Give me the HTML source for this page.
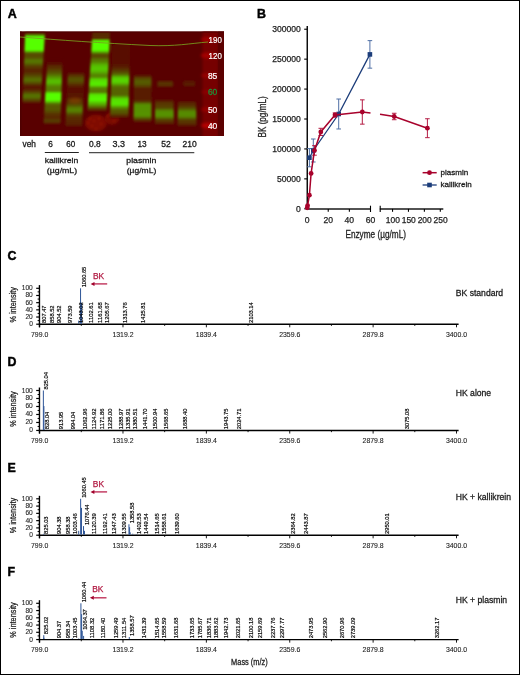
<!DOCTYPE html>
<html><head><meta charset="utf-8"><title>Figure</title>
<style>
html,body{margin:0;padding:0;background:#fff;}
body{width:520px;height:675px;overflow:hidden;font-family:"Liberation Sans",sans-serif;}
svg{display:block;will-change:transform;}
</style></head><body>
<svg width="520" height="675" viewBox="0 0 520 675" font-family="'Liberation Sans', sans-serif"><defs><linearGradient id="lg1" gradientUnits="userSpaceOnUse" x1="0" y1="31.5" x2="0" y2="103.5"><stop offset="0.0000" stop-color="rgb(88,38,0)"/><stop offset="0.0486" stop-color="rgb(88,51,0)"/><stop offset="0.0708" stop-color="rgb(86,255,0)"/><stop offset="0.2611" stop-color="rgb(86,255,0)"/><stop offset="0.2778" stop-color="rgb(86,153,0)"/><stop offset="0.2986" stop-color="rgb(87,82,0)"/><stop offset="0.3542" stop-color="rgb(87,71,0)"/><stop offset="0.3889" stop-color="rgb(86,107,0)"/><stop offset="0.4167" stop-color="rgb(86,122,0)"/><stop offset="0.4514" stop-color="rgb(87,92,0)"/><stop offset="0.4931" stop-color="rgb(88,51,0)"/><stop offset="0.5347" stop-color="rgb(88,38,0)"/><stop offset="0.5764" stop-color="rgb(88,43,0)"/><stop offset="0.6181" stop-color="rgb(87,76,0)"/><stop offset="0.6736" stop-color="rgb(86,117,0)"/><stop offset="0.7153" stop-color="rgb(87,76,0)"/><stop offset="0.7569" stop-color="rgb(88,26,0)"/><stop offset="0.7986" stop-color="rgb(89,20,0)"/><stop offset="0.8403" stop-color="rgb(88,64,0)"/><stop offset="0.8889" stop-color="rgb(86,120,0)"/><stop offset="0.9236" stop-color="rgb(87,102,0)"/><stop offset="0.9653" stop-color="rgb(88,51,0)"/><stop offset="1.0000" stop-color="rgb(89,0,0)"/></linearGradient><linearGradient id="lg2" gradientUnits="userSpaceOnUse" x1="0" y1="58" x2="0" y2="124.5"><stop offset="0.0000" stop-color="rgb(89,0,0)"/><stop offset="0.0451" stop-color="rgb(89,0,0)"/><stop offset="0.0752" stop-color="rgb(89,13,0)"/><stop offset="0.1203" stop-color="rgb(88,38,0)"/><stop offset="0.1805" stop-color="rgb(88,64,0)"/><stop offset="0.2256" stop-color="rgb(87,89,0)"/><stop offset="0.2707" stop-color="rgb(86,128,0)"/><stop offset="0.3158" stop-color="rgb(86,173,0)"/><stop offset="0.3534" stop-color="rgb(86,194,0)"/><stop offset="0.3835" stop-color="rgb(86,178,0)"/><stop offset="0.4135" stop-color="rgb(86,140,0)"/><stop offset="0.4586" stop-color="rgb(86,120,0)"/><stop offset="0.5038" stop-color="rgb(86,133,0)"/><stop offset="0.5338" stop-color="rgb(86,255,0)"/><stop offset="0.6316" stop-color="rgb(86,255,0)"/><stop offset="0.6541" stop-color="rgb(86,204,0)"/><stop offset="0.6767" stop-color="rgb(86,128,0)"/><stop offset="0.7068" stop-color="rgb(87,92,0)"/><stop offset="0.7820" stop-color="rgb(87,87,0)"/><stop offset="0.8195" stop-color="rgb(88,64,0)"/><stop offset="0.8722" stop-color="rgb(88,38,0)"/><stop offset="0.9173" stop-color="rgb(88,46,0)"/><stop offset="0.9474" stop-color="rgb(87,69,0)"/><stop offset="0.9774" stop-color="rgb(88,31,0)"/><stop offset="1.0000" stop-color="rgb(89,0,0)"/></linearGradient><linearGradient id="lg3" gradientUnits="userSpaceOnUse" x1="0" y1="71" x2="0" y2="127"><stop offset="0.0000" stop-color="rgb(89,0,0)"/><stop offset="0.0357" stop-color="rgb(89,13,0)"/><stop offset="0.0804" stop-color="rgb(88,46,0)"/><stop offset="0.1250" stop-color="rgb(87,76,0)"/><stop offset="0.1607" stop-color="rgb(87,87,0)"/><stop offset="0.2143" stop-color="rgb(88,64,0)"/><stop offset="0.2679" stop-color="rgb(88,26,0)"/><stop offset="0.3214" stop-color="rgb(89,15,0)"/><stop offset="0.4464" stop-color="rgb(89,20,0)"/><stop offset="0.5179" stop-color="rgb(88,46,0)"/><stop offset="0.5893" stop-color="rgb(88,64,0)"/><stop offset="0.6429" stop-color="rgb(86,107,0)"/><stop offset="0.6875" stop-color="rgb(86,133,0)"/><stop offset="0.7232" stop-color="rgb(86,122,0)"/><stop offset="0.7589" stop-color="rgb(87,84,0)"/><stop offset="0.8036" stop-color="rgb(88,51,0)"/><stop offset="0.8929" stop-color="rgb(88,38,0)"/><stop offset="0.9643" stop-color="rgb(88,33,0)"/><stop offset="1.0000" stop-color="rgb(89,0,0)"/></linearGradient><linearGradient id="lg4" gradientUnits="userSpaceOnUse" x1="0" y1="31.5" x2="0" y2="111.5"><stop offset="0.0000" stop-color="rgb(88,38,0)"/><stop offset="0.1000" stop-color="rgb(88,51,0)"/><stop offset="0.1162" stop-color="rgb(86,255,0)"/><stop offset="0.2338" stop-color="rgb(86,255,0)"/><stop offset="0.2562" stop-color="rgb(86,166,0)"/><stop offset="0.2812" stop-color="rgb(87,76,0)"/><stop offset="0.3187" stop-color="rgb(87,69,0)"/><stop offset="0.3500" stop-color="rgb(86,115,0)"/><stop offset="0.3812" stop-color="rgb(86,128,0)"/><stop offset="0.4188" stop-color="rgb(86,184,0)"/><stop offset="0.4688" stop-color="rgb(86,204,0)"/><stop offset="0.5062" stop-color="rgb(86,178,0)"/><stop offset="0.5375" stop-color="rgb(86,133,0)"/><stop offset="0.5687" stop-color="rgb(86,128,0)"/><stop offset="0.6000" stop-color="rgb(86,217,0)"/><stop offset="0.6687" stop-color="rgb(86,242,0)"/><stop offset="0.6937" stop-color="rgb(86,153,0)"/><stop offset="0.7188" stop-color="rgb(86,120,0)"/><stop offset="0.7625" stop-color="rgb(86,120,0)"/><stop offset="0.7875" stop-color="rgb(86,230,0)"/><stop offset="0.8562" stop-color="rgb(86,255,0)"/><stop offset="0.8812" stop-color="rgb(86,204,0)"/><stop offset="0.9062" stop-color="rgb(86,178,0)"/><stop offset="0.9313" stop-color="rgb(86,128,0)"/><stop offset="0.9563" stop-color="rgb(87,76,0)"/><stop offset="0.9812" stop-color="rgb(88,38,0)"/><stop offset="1.0000" stop-color="rgb(89,0,0)"/></linearGradient><linearGradient id="lg5" gradientUnits="userSpaceOnUse" x1="0" y1="44" x2="0" y2="118"><stop offset="0.0000" stop-color="rgb(89,0,0)"/><stop offset="0.0270" stop-color="rgb(89,15,0)"/><stop offset="0.1486" stop-color="rgb(89,15,0)"/><stop offset="0.2568" stop-color="rgb(89,13,0)"/><stop offset="0.2973" stop-color="rgb(88,26,0)"/><stop offset="0.3378" stop-color="rgb(88,46,0)"/><stop offset="0.3784" stop-color="rgb(87,71,0)"/><stop offset="0.4189" stop-color="rgb(86,115,0)"/><stop offset="0.4527" stop-color="rgb(86,199,0)"/><stop offset="0.4932" stop-color="rgb(86,217,0)"/><stop offset="0.5270" stop-color="rgb(86,199,0)"/><stop offset="0.5541" stop-color="rgb(86,140,0)"/><stop offset="0.5878" stop-color="rgb(87,102,0)"/><stop offset="0.6892" stop-color="rgb(87,97,0)"/><stop offset="0.7162" stop-color="rgb(86,153,0)"/><stop offset="0.7432" stop-color="rgb(86,224,0)"/><stop offset="0.8176" stop-color="rgb(86,230,0)"/><stop offset="0.8514" stop-color="rgb(86,153,0)"/><stop offset="0.8919" stop-color="rgb(87,92,0)"/><stop offset="0.9324" stop-color="rgb(87,84,0)"/><stop offset="0.9595" stop-color="rgb(88,51,0)"/><stop offset="0.9865" stop-color="rgb(89,20,0)"/><stop offset="1.0000" stop-color="rgb(89,0,0)"/></linearGradient><linearGradient id="lg6" gradientUnits="userSpaceOnUse" x1="0" y1="74" x2="0" y2="122.5"><stop offset="0.0000" stop-color="rgb(89,0,0)"/><stop offset="0.0412" stop-color="rgb(88,26,0)"/><stop offset="0.0825" stop-color="rgb(88,64,0)"/><stop offset="0.1237" stop-color="rgb(87,89,0)"/><stop offset="0.1959" stop-color="rgb(87,92,0)"/><stop offset="0.2474" stop-color="rgb(88,64,0)"/><stop offset="0.2990" stop-color="rgb(88,31,0)"/><stop offset="0.4536" stop-color="rgb(88,26,0)"/><stop offset="0.5567" stop-color="rgb(88,36,0)"/><stop offset="0.5979" stop-color="rgb(87,89,0)"/><stop offset="0.6289" stop-color="rgb(86,143,0)"/><stop offset="0.8557" stop-color="rgb(86,148,0)"/><stop offset="0.8969" stop-color="rgb(86,107,0)"/><stop offset="0.9381" stop-color="rgb(88,56,0)"/><stop offset="0.9794" stop-color="rgb(89,20,0)"/><stop offset="1.0000" stop-color="rgb(89,0,0)"/></linearGradient><linearGradient id="lg7" gradientUnits="userSpaceOnUse" x1="0" y1="99" x2="0" y2="126"><stop offset="0.0000" stop-color="rgb(89,0,0)"/><stop offset="0.0741" stop-color="rgb(88,31,0)"/><stop offset="0.1852" stop-color="rgb(88,59,0)"/><stop offset="0.2963" stop-color="rgb(88,61,0)"/><stop offset="0.3704" stop-color="rgb(87,89,0)"/><stop offset="0.4444" stop-color="rgb(86,143,0)"/><stop offset="0.6296" stop-color="rgb(86,148,0)"/><stop offset="0.7037" stop-color="rgb(87,102,0)"/><stop offset="0.7778" stop-color="rgb(88,56,0)"/><stop offset="0.8519" stop-color="rgb(88,46,0)"/><stop offset="0.9259" stop-color="rgb(89,20,0)"/><stop offset="1.0000" stop-color="rgb(89,0,0)"/></linearGradient><linearGradient id="lg71" gradientUnits="userSpaceOnUse" x1="0" y1="80.5" x2="0" y2="87.5"><stop offset="0.0000" stop-color="rgb(89,0,0)"/><stop offset="0.2143" stop-color="rgb(88,51,0)"/><stop offset="0.7143" stop-color="rgb(88,51,0)"/><stop offset="1.0000" stop-color="rgb(89,0,0)"/></linearGradient><linearGradient id="lg8" gradientUnits="userSpaceOnUse" x1="0" y1="101" x2="0" y2="127"><stop offset="0.0000" stop-color="rgb(89,0,0)"/><stop offset="0.0769" stop-color="rgb(88,41,0)"/><stop offset="0.1923" stop-color="rgb(88,46,0)"/><stop offset="0.2692" stop-color="rgb(87,76,0)"/><stop offset="0.3462" stop-color="rgb(87,102,0)"/><stop offset="0.4038" stop-color="rgb(86,138,0)"/><stop offset="0.5769" stop-color="rgb(86,140,0)"/><stop offset="0.6538" stop-color="rgb(87,102,0)"/><stop offset="0.7308" stop-color="rgb(88,56,0)"/><stop offset="0.8462" stop-color="rgb(88,51,0)"/><stop offset="0.9231" stop-color="rgb(88,26,0)"/><stop offset="1.0000" stop-color="rgb(89,0,0)"/></linearGradient><linearGradient id="lg81" gradientUnits="userSpaceOnUse" x1="0" y1="80.5" x2="0" y2="87"><stop offset="0.0000" stop-color="rgb(89,0,0)"/><stop offset="0.2308" stop-color="rgb(88,31,0)"/><stop offset="0.6923" stop-color="rgb(88,31,0)"/><stop offset="1.0000" stop-color="rgb(89,0,0)"/></linearGradient><clipPath id="gelclip"><rect x="20" y="31.5" width="204" height="104.5"/></clipPath><filter id="blur1" x="-10%" y="-10%" width="120%" height="120%"><feGaussianBlur stdDeviation="0.95"/></filter><filter id="blur2" x="-50%" y="-50%" width="200%" height="200%"><feGaussianBlur stdDeviation="1.5"/></filter></defs><rect x="0" y="0" width="520" height="675" fill="#fff"/><rect x="20" y="31.5" width="204" height="104.5" fill="rgb(89,0,0)"/><g clip-path="url(#gelclip)"><rect x="202.5" y="28" width="15.7" height="112" fill="rgb(118,0,0)" filter="url(#blur1)"/></g><rect x="218.2" y="31.5" width="5.8" height="104.5" fill="rgb(92,0,0)"/><ellipse cx="208" cy="39.5" rx="7.0" ry="2.7" fill="rgb(160,0,0)" filter="url(#blur2)"/><ellipse cx="208" cy="55.5" rx="7.3" ry="3.0" fill="rgb(164,0,0)" filter="url(#blur2)"/><ellipse cx="208" cy="75.5" rx="6.7" ry="2.4000000000000004" fill="rgb(152,0,0)" filter="url(#blur2)"/><ellipse cx="208" cy="92" rx="6.5" ry="2.2" fill="rgb(140,0,0)" filter="url(#blur2)"/><ellipse cx="208" cy="109.5" rx="6.7" ry="2.4000000000000004" fill="rgb(152,0,0)" filter="url(#blur2)"/><ellipse cx="208" cy="125.5" rx="7.0" ry="2.7" fill="rgb(182,0,0)" filter="url(#blur2)"/><ellipse cx="96" cy="123" rx="11" ry="8.5" fill="rgb(135,15,0)" opacity="0.85" filter="url(#blur2)"/><ellipse cx="112" cy="118.5" rx="7.5" ry="6.5" fill="rgb(130,8,0)" opacity="0.85" filter="url(#blur2)"/><circle cx="90" cy="119" r="1.4" fill="rgb(165,40,0)" opacity="0.35" filter="url(#blur1)"/><circle cx="94" cy="121" r="1.4" fill="rgb(165,40,0)" opacity="0.35" filter="url(#blur1)"/><circle cx="99" cy="118.5" r="1.4" fill="rgb(165,40,0)" opacity="0.35" filter="url(#blur1)"/><circle cx="92" cy="126" r="1.4" fill="rgb(165,40,0)" opacity="0.35" filter="url(#blur1)"/><circle cx="101" cy="124" r="1.4" fill="rgb(165,40,0)" opacity="0.35" filter="url(#blur1)"/><circle cx="96" cy="129" r="1.4" fill="rgb(165,40,0)" opacity="0.35" filter="url(#blur1)"/><circle cx="108" cy="116" r="1.4" fill="rgb(165,40,0)" opacity="0.35" filter="url(#blur1)"/><circle cx="114" cy="121" r="1.4" fill="rgb(165,40,0)" opacity="0.35" filter="url(#blur1)"/><circle cx="88" cy="123" r="1.4" fill="rgb(165,40,0)" opacity="0.35" filter="url(#blur1)"/><g clip-path="url(#gelclip)"><g filter="url(#blur1)"><path d="M25.2,31.5 L45,31.5 L40.5,103.5 L22.5,103.5 Z" fill="url(#lg1)"/><path d="M47.5,58 L62.5,58 L60.5,124.5 L43.5,124.5 Z" fill="url(#lg2)"/><path d="M68,71 L84.5,71 L82,127 L65.5,127 Z" fill="url(#lg3)"/><path d="M92.5,31.5 L110,31.5 L106.5,111.5 L87.5,111.5 Z" fill="url(#lg4)"/><path d="M112.5,44 L130,44 L128.5,118 L110,118 Z" fill="url(#lg5)"/><path d="M134,74 L151.5,74 L151.5,122.5 L133.5,122.5 Z" fill="url(#lg6)"/><path d="M155,99 L173.5,99 L174,126 L155,126 Z" fill="url(#lg7)"/><path d="M157.5,80.5 L173,80.5 L173,87.5 L157.5,87.5 Z" fill="url(#lg71)"/><path d="M178,101 L196,101 L196.5,127 L177.5,127 Z" fill="url(#lg8)"/><path d="M183.5,80.5 L195,80.5 L195,87 L183.5,87 Z" fill="url(#lg81)"/></g></g><rect x="20" y="31.5" width="204" height="1.1" fill="rgb(72,0,0)" opacity="0.8"/><rect x="20" y="31.5" width="1.6" height="104.5" fill="rgb(75,0,0)" opacity="0.7"/><ellipse cx="75" cy="100.5" rx="6" ry="3" fill="rgb(150,70,0)" opacity="0.45" filter="url(#blur2)"/><path d="M20,37 C60,40 100,43 150,45.5 C175,46.5 190,43.5 208,42" fill="none" stroke="rgb(120,160,30)" stroke-width="0.95" opacity="0.9"/><text x="208.6" y="42.6" font-size="8.7" fill="#fff" stroke="#fff" stroke-width="0.2" textLength="13.2" lengthAdjust="spacingAndGlyphs">190</text><text x="208.6" y="59.0" font-size="8.7" fill="#fff" stroke="#fff" stroke-width="0.2" textLength="13.2" lengthAdjust="spacingAndGlyphs">120</text><text x="207.9" y="79.0" font-size="8.7" fill="#fff" stroke="#fff" stroke-width="0.2" textLength="9.4" lengthAdjust="spacingAndGlyphs">85</text><text x="207.9" y="95.0" font-size="8.7" fill="#1d8f38" stroke="#1d8f38" stroke-width="0.3" textLength="9.4" lengthAdjust="spacingAndGlyphs">60</text><text x="207.9" y="112.7" font-size="8.7" fill="#fff" stroke="#fff" stroke-width="0.2" textLength="9.4" lengthAdjust="spacingAndGlyphs">50</text><text x="207.9" y="128.7" font-size="8.7" fill="#fff" stroke="#fff" stroke-width="0.2" textLength="9.4" lengthAdjust="spacingAndGlyphs">40</text><text x="7.7" y="17.8" font-size="12.4" font-weight="bold" stroke="#000" stroke-width="0.45" textLength="9.0" lengthAdjust="spacingAndGlyphs">A</text><text x="29.2" y="147.1" text-anchor="middle" font-size="8.2" fill="#1a1a1a" stroke="#1a1a1a" stroke-width="0.28" textLength="13.4" lengthAdjust="spacingAndGlyphs">veh</text><text x="50.6" y="147.1" text-anchor="middle" font-size="8.2" fill="#1a1a1a" stroke="#1a1a1a" stroke-width="0.28" textLength="4.6" lengthAdjust="spacingAndGlyphs">6</text><text x="70.7" y="147.1" text-anchor="middle" font-size="8.2" fill="#1a1a1a" stroke="#1a1a1a" stroke-width="0.28" textLength="9.0" lengthAdjust="spacingAndGlyphs">60</text><text x="94.9" y="147.1" text-anchor="middle" font-size="8.2" fill="#1a1a1a" stroke="#1a1a1a" stroke-width="0.28" textLength="11.7" lengthAdjust="spacingAndGlyphs">0.8</text><text x="118.8" y="147.1" text-anchor="middle" font-size="8.2" fill="#1a1a1a" stroke="#1a1a1a" stroke-width="0.28" textLength="12.5" lengthAdjust="spacingAndGlyphs">3.3</text><text x="142.1" y="147.1" text-anchor="middle" font-size="8.2" fill="#1a1a1a" stroke="#1a1a1a" stroke-width="0.28" textLength="9.2" lengthAdjust="spacingAndGlyphs">13</text><text x="166" y="147.1" text-anchor="middle" font-size="8.2" fill="#1a1a1a" stroke="#1a1a1a" stroke-width="0.28" textLength="9.5" lengthAdjust="spacingAndGlyphs">52</text><text x="189.6" y="147.1" text-anchor="middle" font-size="8.2" fill="#1a1a1a" stroke="#1a1a1a" stroke-width="0.28" textLength="14.2" lengthAdjust="spacingAndGlyphs">210</text><rect x="44.8" y="152" width="34" height="1" fill="#222"/><rect x="89" y="152.2" width="105.3" height="1" fill="#222"/><text x="61.5" y="163.3" text-anchor="middle" font-size="8" fill="#1a1a1a" stroke="#1a1a1a" stroke-width="0.28" textLength="33.5" lengthAdjust="spacingAndGlyphs">kallikrein</text><text x="62" y="172.6" text-anchor="middle" font-size="8" fill="#1a1a1a" stroke="#1a1a1a" stroke-width="0.28" textLength="30.3" lengthAdjust="spacingAndGlyphs">(µg/mL)</text><text x="141.3" y="163.3" text-anchor="middle" font-size="8" fill="#1a1a1a" stroke="#1a1a1a" stroke-width="0.28" textLength="30" lengthAdjust="spacingAndGlyphs">plasmin</text><text x="141.5" y="172.6" text-anchor="middle" font-size="8" fill="#1a1a1a" stroke="#1a1a1a" stroke-width="0.28" textLength="29.5" lengthAdjust="spacingAndGlyphs">(µg/mL)</text><text x="257.0" y="17.8" font-size="12.4" font-weight="bold" stroke="#000" stroke-width="0.45">B</text><line x1="307.25" y1="26" x2="307.25" y2="209.7" stroke="#000" stroke-width="1.4"/><line x1="306.5" y1="209.0" x2="370.5" y2="209.0" stroke="#1a1a1a" stroke-width="1.6"/><line x1="379.8" y1="209.0" x2="443.3" y2="209.0" stroke="#1a1a1a" stroke-width="1.6"/><line x1="370.5" y1="205.7" x2="370.5" y2="212" stroke="#000" stroke-width="1.1"/><line x1="380.2" y1="205.7" x2="380.2" y2="212" stroke="#000" stroke-width="1.1"/><line x1="304.2" y1="208.80" x2="307.1" y2="208.80" stroke="#000" stroke-width="1.1"/><text x="300.8" y="211.80" text-anchor="end" font-size="8.6" fill="#222" stroke="#222" stroke-width="0.25" textLength="4.77" lengthAdjust="spacingAndGlyphs">0</text><line x1="304.2" y1="178.87" x2="307.1" y2="178.87" stroke="#000" stroke-width="1.1"/><text x="300.8" y="181.87" text-anchor="end" font-size="8.6" fill="#222" stroke="#222" stroke-width="0.25" textLength="23.85" lengthAdjust="spacingAndGlyphs">50000</text><line x1="304.2" y1="148.94" x2="307.1" y2="148.94" stroke="#000" stroke-width="1.1"/><text x="300.8" y="151.94" text-anchor="end" font-size="8.6" fill="#222" stroke="#222" stroke-width="0.25" textLength="28.62" lengthAdjust="spacingAndGlyphs">100000</text><line x1="304.2" y1="119.01" x2="307.1" y2="119.01" stroke="#000" stroke-width="1.1"/><text x="300.8" y="122.01" text-anchor="end" font-size="8.6" fill="#222" stroke="#222" stroke-width="0.25" textLength="28.62" lengthAdjust="spacingAndGlyphs">150000</text><line x1="304.2" y1="89.08" x2="307.1" y2="89.08" stroke="#000" stroke-width="1.1"/><text x="300.8" y="92.08" text-anchor="end" font-size="8.6" fill="#222" stroke="#222" stroke-width="0.25" textLength="28.62" lengthAdjust="spacingAndGlyphs">200000</text><line x1="304.2" y1="59.15" x2="307.1" y2="59.15" stroke="#000" stroke-width="1.1"/><text x="300.8" y="62.15" text-anchor="end" font-size="8.6" fill="#222" stroke="#222" stroke-width="0.25" textLength="28.62" lengthAdjust="spacingAndGlyphs">250000</text><line x1="304.2" y1="29.22" x2="307.1" y2="29.22" stroke="#000" stroke-width="1.1"/><text x="300.8" y="32.22" text-anchor="end" font-size="8.6" fill="#222" stroke="#222" stroke-width="0.25" textLength="28.62" lengthAdjust="spacingAndGlyphs">300000</text><text x="307.10" y="222.8" text-anchor="middle" font-size="8.6" fill="#222" stroke="#222" stroke-width="0.25">0</text><line x1="328.23" y1="208.9" x2="328.23" y2="211.8" stroke="#000" stroke-width="1.1"/><text x="328.23" y="222.8" text-anchor="middle" font-size="8.6" fill="#222" stroke="#222" stroke-width="0.25">20</text><line x1="349.37" y1="208.9" x2="349.37" y2="211.8" stroke="#000" stroke-width="1.1"/><text x="349.37" y="222.8" text-anchor="middle" font-size="8.6" fill="#222" stroke="#222" stroke-width="0.25">40</text><text x="370.50" y="222.8" text-anchor="middle" font-size="8.6" fill="#222" stroke="#222" stroke-width="0.25">60</text><line x1="392.54" y1="208.9" x2="392.54" y2="211.8" stroke="#000" stroke-width="1.1"/><text x="392.84" y="222.8" text-anchor="middle" font-size="8.6" fill="#222" stroke="#222" stroke-width="0.25" textLength="14.1" lengthAdjust="spacingAndGlyphs">100</text><line x1="408.46" y1="208.9" x2="408.46" y2="211.8" stroke="#000" stroke-width="1.1"/><text x="408.76" y="222.8" text-anchor="middle" font-size="8.6" fill="#222" stroke="#222" stroke-width="0.25" textLength="14.1" lengthAdjust="spacingAndGlyphs">150</text><line x1="424.38" y1="208.9" x2="424.38" y2="211.8" stroke="#000" stroke-width="1.1"/><text x="424.68" y="222.8" text-anchor="middle" font-size="8.6" fill="#222" stroke="#222" stroke-width="0.25" textLength="14.1" lengthAdjust="spacingAndGlyphs">200</text><line x1="440.30" y1="208.9" x2="440.30" y2="211.8" stroke="#000" stroke-width="1.1"/><text x="440.60" y="222.8" text-anchor="middle" font-size="8.6" fill="#222" stroke="#222" stroke-width="0.25" textLength="14.1" lengthAdjust="spacingAndGlyphs">250</text><text x="375.7" y="237.8" text-anchor="middle" font-size="10" fill="#222" stroke="#222" stroke-width="0.28" textLength="60.6" lengthAdjust="spacingAndGlyphs">Enzyme (µg/mL)</text><text transform="translate(265.6,116.9) rotate(-90)" text-anchor="middle" font-size="10" fill="#222" stroke="#222" stroke-width="0.28" textLength="41" lengthAdjust="spacingAndGlyphs">BK (pg/mL)</text><line x1="309.4" y1="148.60" x2="309.4" y2="166.80" stroke="#4f6fa5" stroke-width="1"/><line x1="307.10" y1="148.60" x2="311.70" y2="148.60" stroke="#4f6fa5" stroke-width="1"/><line x1="307.10" y1="166.80" x2="311.70" y2="166.80" stroke="#4f6fa5" stroke-width="1"/><line x1="313.3" y1="139.01" x2="313.3" y2="161.99" stroke="#4f6fa5" stroke-width="1"/><line x1="311.00" y1="139.01" x2="315.60" y2="139.01" stroke="#4f6fa5" stroke-width="1"/><line x1="311.00" y1="161.99" x2="315.60" y2="161.99" stroke="#4f6fa5" stroke-width="1"/><line x1="338.7" y1="99.03" x2="338.7" y2="128.97" stroke="#4f6fa5" stroke-width="1"/><line x1="336.40" y1="99.03" x2="341.00" y2="99.03" stroke="#4f6fa5" stroke-width="1"/><line x1="336.40" y1="128.97" x2="341.00" y2="128.97" stroke="#4f6fa5" stroke-width="1"/><line x1="369.9" y1="40.63" x2="369.9" y2="68.17" stroke="#4f6fa5" stroke-width="1"/><line x1="367.60" y1="40.63" x2="372.20" y2="40.63" stroke="#4f6fa5" stroke-width="1"/><line x1="367.60" y1="68.17" x2="372.20" y2="68.17" stroke="#4f6fa5" stroke-width="1"/><polyline points="309.4,157.7 313.3,150.5 338.7,114.0 369.9,54.4" fill="none" stroke="#1c3d7a" stroke-width="1.3"/><rect x="307.10" y="155.40" width="4.6" height="4.6" fill="#1c3d7a"/><rect x="311.00" y="148.20" width="4.6" height="4.6" fill="#1c3d7a"/><rect x="336.40" y="111.70" width="4.6" height="4.6" fill="#1c3d7a"/><rect x="367.60" y="52.10" width="4.6" height="4.6" fill="#1c3d7a"/><line x1="314.5" y1="145.61" x2="314.5" y2="155.19" stroke="#b41c44" stroke-width="1"/><line x1="312.20" y1="145.61" x2="316.80" y2="145.61" stroke="#b41c44" stroke-width="1"/><line x1="312.20" y1="155.19" x2="316.80" y2="155.19" stroke="#b41c44" stroke-width="1"/><line x1="320.8" y1="128.31" x2="320.8" y2="135.49" stroke="#b41c44" stroke-width="1"/><line x1="318.50" y1="128.31" x2="323.10" y2="128.31" stroke="#b41c44" stroke-width="1"/><line x1="318.50" y1="135.49" x2="323.10" y2="135.49" stroke="#b41c44" stroke-width="1"/><line x1="335.0" y1="112.90" x2="335.0" y2="117.10" stroke="#b41c44" stroke-width="1"/><line x1="332.70" y1="112.90" x2="337.30" y2="112.90" stroke="#b41c44" stroke-width="1"/><line x1="332.70" y1="117.10" x2="337.30" y2="117.10" stroke="#b41c44" stroke-width="1"/><line x1="362.3" y1="99.85" x2="362.3" y2="124.15" stroke="#b41c44" stroke-width="1"/><line x1="360.00" y1="99.85" x2="364.60" y2="99.85" stroke="#b41c44" stroke-width="1"/><line x1="360.00" y1="124.15" x2="364.60" y2="124.15" stroke="#b41c44" stroke-width="1"/><line x1="394.2" y1="113.27" x2="394.2" y2="119.73" stroke="#b41c44" stroke-width="1"/><line x1="391.90" y1="113.27" x2="396.50" y2="113.27" stroke="#b41c44" stroke-width="1"/><line x1="391.90" y1="119.73" x2="396.50" y2="119.73" stroke="#b41c44" stroke-width="1"/><line x1="427.4" y1="118.74" x2="427.4" y2="137.66" stroke="#b41c44" stroke-width="1"/><line x1="425.10" y1="118.74" x2="429.70" y2="118.74" stroke="#b41c44" stroke-width="1"/><line x1="425.10" y1="137.66" x2="429.70" y2="137.66" stroke="#b41c44" stroke-width="1"/><polyline points="307.2,207.8 307.6,205.6 309.4,195.2 311.1,173.4 314.5,150.4 320.8,131.9 335.0,115.0 362.3,112.0 370.5,113" fill="none" stroke="#a8022c" stroke-width="1.5"/><polyline points="380,114.3 394.2,116.5 427.4,128.2" fill="none" stroke="#a8022c" stroke-width="1.5"/><circle cx="307.2" cy="207.8" r="2.4" fill="#a8022c"/><circle cx="307.6" cy="205.6" r="2.4" fill="#a8022c"/><circle cx="309.4" cy="195.2" r="2.4" fill="#a8022c"/><circle cx="311.1" cy="173.4" r="2.4" fill="#a8022c"/><circle cx="314.5" cy="150.4" r="2.4" fill="#a8022c"/><circle cx="320.8" cy="131.9" r="2.4" fill="#a8022c"/><circle cx="335.0" cy="115.0" r="2.4" fill="#a8022c"/><circle cx="362.3" cy="112.0" r="2.4" fill="#a8022c"/><circle cx="394.2" cy="116.5" r="2.4" fill="#a8022c"/><circle cx="427.4" cy="128.2" r="2.4" fill="#a8022c"/><line x1="422.6" y1="172.7" x2="436.7" y2="172.7" stroke="#a8022c" stroke-width="1.5"/><circle cx="429.5" cy="172.7" r="2.4" fill="#a8022c"/><line x1="422.6" y1="185" x2="436.7" y2="185" stroke="#1c3d7a" stroke-width="1.3"/><rect x="427.2" y="182.7" width="4.6" height="4.6" fill="#1c3d7a"/><text x="440.5" y="175.1" font-size="8" fill="#1a1a1a" stroke="#1a1a1a" stroke-width="0.28" textLength="27.7" lengthAdjust="spacingAndGlyphs">plasmin</text><text x="440.5" y="186.9" font-size="8" fill="#1a1a1a" stroke="#1a1a1a" stroke-width="0.28" textLength="31.2" lengthAdjust="spacingAndGlyphs">kallikrein</text><text x="7.5" y="260.3" font-size="12.4" font-weight="bold" stroke="#000" stroke-width="0.45">C</text><line x1="39.45" y1="285.1" x2="39.45" y2="327.3" stroke="#000" stroke-width="1.4"/><line x1="38.8" y1="324.25" x2="458.6" y2="324.25" stroke="#000" stroke-width="1.45"/><line x1="36.2" y1="324.20" x2="39.4" y2="324.20" stroke="#000" stroke-width="1.2"/><text x="32.8" y="326.20" text-anchor="end" font-size="6.6" fill="#2a2a2a" stroke="#2a2a2a" stroke-width="0.12">0</text><line x1="37.6" y1="320.61" x2="39.4" y2="320.61" stroke="#000" stroke-width="1.0"/><line x1="36.2" y1="317.02" x2="39.4" y2="317.02" stroke="#000" stroke-width="1.2"/><text x="32.8" y="319.02" text-anchor="end" font-size="6.6" fill="#2a2a2a" stroke="#2a2a2a" stroke-width="0.12">20</text><line x1="37.6" y1="313.43" x2="39.4" y2="313.43" stroke="#000" stroke-width="1.0"/><line x1="36.2" y1="309.84" x2="39.4" y2="309.84" stroke="#000" stroke-width="1.2"/><text x="32.8" y="311.84" text-anchor="end" font-size="6.6" fill="#2a2a2a" stroke="#2a2a2a" stroke-width="0.12">40</text><line x1="37.6" y1="306.25" x2="39.4" y2="306.25" stroke="#000" stroke-width="1.0"/><line x1="36.2" y1="302.66" x2="39.4" y2="302.66" stroke="#000" stroke-width="1.2"/><text x="32.8" y="304.66" text-anchor="end" font-size="6.6" fill="#2a2a2a" stroke="#2a2a2a" stroke-width="0.12">60</text><line x1="37.6" y1="299.07" x2="39.4" y2="299.07" stroke="#000" stroke-width="1.0"/><line x1="36.2" y1="295.48" x2="39.4" y2="295.48" stroke="#000" stroke-width="1.2"/><text x="32.8" y="297.48" text-anchor="end" font-size="6.6" fill="#2a2a2a" stroke="#2a2a2a" stroke-width="0.12">80</text><line x1="37.6" y1="291.89" x2="39.4" y2="291.89" stroke="#000" stroke-width="1.0"/><line x1="36.2" y1="288.30" x2="39.4" y2="288.30" stroke="#000" stroke-width="1.2"/><text x="32.8" y="290.30" text-anchor="end" font-size="6.6" fill="#2a2a2a" stroke="#2a2a2a" stroke-width="0.12">100</text><line x1="39.60" y1="324.2" x2="39.60" y2="327.3" stroke="#000" stroke-width="0.9"/><text x="39.60" y="336.80" text-anchor="middle" font-size="6.9" fill="#222" stroke="#222" stroke-width="0.1">799.0</text><line x1="81.29" y1="324.2" x2="81.29" y2="325.9" stroke="#000" stroke-width="0.9"/><line x1="122.98" y1="324.2" x2="122.98" y2="327.3" stroke="#000" stroke-width="0.9"/><text x="122.98" y="336.80" text-anchor="middle" font-size="6.9" fill="#222" stroke="#222" stroke-width="0.1">1319.2</text><line x1="164.67" y1="324.2" x2="164.67" y2="325.9" stroke="#000" stroke-width="0.9"/><line x1="206.36" y1="324.2" x2="206.36" y2="327.3" stroke="#000" stroke-width="0.9"/><text x="206.36" y="336.80" text-anchor="middle" font-size="6.9" fill="#222" stroke="#222" stroke-width="0.1">1839.4</text><line x1="248.05" y1="324.2" x2="248.05" y2="325.9" stroke="#000" stroke-width="0.9"/><line x1="289.74" y1="324.2" x2="289.74" y2="327.3" stroke="#000" stroke-width="0.9"/><text x="289.74" y="336.80" text-anchor="middle" font-size="6.9" fill="#222" stroke="#222" stroke-width="0.1">2359.6</text><line x1="331.43" y1="324.2" x2="331.43" y2="325.9" stroke="#000" stroke-width="0.9"/><line x1="373.12" y1="324.2" x2="373.12" y2="327.3" stroke="#000" stroke-width="0.9"/><text x="373.12" y="336.80" text-anchor="middle" font-size="6.9" fill="#222" stroke="#222" stroke-width="0.1">2879.8</text><line x1="414.81" y1="324.2" x2="414.81" y2="325.9" stroke="#000" stroke-width="0.9"/><line x1="456.50" y1="324.2" x2="456.50" y2="327.3" stroke="#000" stroke-width="0.9"/><text x="456.50" y="336.80" text-anchor="middle" font-size="6.9" fill="#222" stroke="#222" stroke-width="0.1">3400.0</text><text transform="translate(15.8,304.85) rotate(-90)" text-anchor="middle" font-size="8.4" fill="#222" stroke="#222" stroke-width="0.25" textLength="35.5" lengthAdjust="spacingAndGlyphs">% intensity</text><text x="455.8" y="296.30" font-size="8.6" fill="#1a1a1a" stroke="#1a1a1a" stroke-width="0.28">BK standard</text><line x1="40.96" y1="323.60" x2="40.96" y2="323.84" stroke="#2e5597" stroke-width="1.0"/><line x1="49.14" y1="323.60" x2="49.14" y2="323.84" stroke="#2e5597" stroke-width="1.0"/><line x1="56.51" y1="323.60" x2="56.51" y2="323.48" stroke="#2e5597" stroke-width="1.0"/><line x1="62.20" y1="323.60" x2="62.20" y2="323.84" stroke="#2e5597" stroke-width="1.0"/><line x1="67.01" y1="323.60" x2="67.01" y2="323.84" stroke="#2e5597" stroke-width="1.0"/><line x1="69.41" y1="323.60" x2="69.41" y2="323.66" stroke="#2e5597" stroke-width="1.0"/><line x1="78.71" y1="323.60" x2="78.71" y2="320.61" stroke="#2e5597" stroke-width="1.0"/><line x1="80.55" y1="323.60" x2="80.55" y2="288.30" stroke="#2e5597" stroke-width="1.0"/><line x1="81.52" y1="323.60" x2="81.52" y2="302.66" stroke="#2e5597" stroke-width="1.0"/><line x1="88.27" y1="323.60" x2="88.27" y2="323.84" stroke="#2e5597" stroke-width="1.0"/><text transform="translate(45.56,322.90) rotate(-90)" font-size="6.2" fill="#000" stroke="#000" stroke-width="0.18" textLength="17.43" lengthAdjust="spacingAndGlyphs">807.47</text><text transform="translate(53.74,322.90) rotate(-90)" font-size="6.2" fill="#000" stroke="#000" stroke-width="0.18" textLength="17.43" lengthAdjust="spacingAndGlyphs">858.52</text><text transform="translate(61.11,322.90) rotate(-90)" font-size="6.2" fill="#000" stroke="#000" stroke-width="0.18" textLength="17.43" lengthAdjust="spacingAndGlyphs">904.52</text><text transform="translate(72.19,322.90) rotate(-90)" font-size="6.2" fill="#000" stroke="#000" stroke-width="0.18" textLength="17.43" lengthAdjust="spacingAndGlyphs">973.59</text><text transform="translate(83.31,322.90) rotate(-90)" font-size="6.2" fill="#000" stroke="#000" stroke-width="0.18" textLength="20.60" lengthAdjust="spacingAndGlyphs">1043.02</text><text transform="translate(86.14,287.30) rotate(-90)" font-size="6.2" fill="#000" stroke="#000" stroke-width="0.18" textLength="20.60" lengthAdjust="spacingAndGlyphs">1060.65</text><text transform="translate(92.87,322.90) rotate(-90)" font-size="6.2" fill="#000" stroke="#000" stroke-width="0.18" textLength="20.60" lengthAdjust="spacingAndGlyphs">1102.61</text><text transform="translate(102.33,322.90) rotate(-90)" font-size="6.2" fill="#000" stroke="#000" stroke-width="0.18" textLength="20.60" lengthAdjust="spacingAndGlyphs">1161.68</text><text transform="translate(109.39,322.90) rotate(-90)" font-size="6.2" fill="#000" stroke="#000" stroke-width="0.18" textLength="20.60" lengthAdjust="spacingAndGlyphs">1205.67</text><text transform="translate(126.71,322.90) rotate(-90)" font-size="6.2" fill="#000" stroke="#000" stroke-width="0.18" textLength="20.60" lengthAdjust="spacingAndGlyphs">1313.76</text><text transform="translate(144.67,322.90) rotate(-90)" font-size="6.2" fill="#000" stroke="#000" stroke-width="0.18" textLength="20.60" lengthAdjust="spacingAndGlyphs">1425.81</text><text transform="translate(253.24,322.90) rotate(-90)" font-size="6.2" fill="#000" stroke="#000" stroke-width="0.18" textLength="20.60" lengthAdjust="spacingAndGlyphs">2103.14</text><text x="92.90" y="278.50" font-size="9.4" fill="#b0163f" stroke="#b0163f" stroke-width="0.25" textLength="11.2" lengthAdjust="spacingAndGlyphs">BK</text><line x1="93.5" y1="283.90" x2="107.20" y2="283.90" stroke="#c0335a" stroke-width="1.4"/><path d="M90.60,283.90 L94.50,281.90 L94.50,285.90 Z" fill="#a0002a"/><text x="7.5" y="365.5" font-size="12.4" font-weight="bold" stroke="#000" stroke-width="0.45">D</text><line x1="39.45" y1="387.5" x2="39.45" y2="433.55" stroke="#000" stroke-width="1.4"/><line x1="38.8" y1="430.5" x2="458.6" y2="430.5" stroke="#000" stroke-width="1.45"/><line x1="36.2" y1="430.45" x2="39.4" y2="430.45" stroke="#000" stroke-width="1.2"/><text x="32.8" y="432.45" text-anchor="end" font-size="6.6" fill="#2a2a2a" stroke="#2a2a2a" stroke-width="0.12">0</text><line x1="37.6" y1="426.45" x2="39.4" y2="426.45" stroke="#000" stroke-width="1.0"/><line x1="36.2" y1="422.46" x2="39.4" y2="422.46" stroke="#000" stroke-width="1.2"/><text x="32.8" y="424.46" text-anchor="end" font-size="6.6" fill="#2a2a2a" stroke="#2a2a2a" stroke-width="0.12">20</text><line x1="37.6" y1="418.46" x2="39.4" y2="418.46" stroke="#000" stroke-width="1.0"/><line x1="36.2" y1="414.47" x2="39.4" y2="414.47" stroke="#000" stroke-width="1.2"/><text x="32.8" y="416.47" text-anchor="end" font-size="6.6" fill="#2a2a2a" stroke="#2a2a2a" stroke-width="0.12">40</text><line x1="37.6" y1="410.48" x2="39.4" y2="410.48" stroke="#000" stroke-width="1.0"/><line x1="36.2" y1="406.48" x2="39.4" y2="406.48" stroke="#000" stroke-width="1.2"/><text x="32.8" y="408.48" text-anchor="end" font-size="6.6" fill="#2a2a2a" stroke="#2a2a2a" stroke-width="0.12">60</text><line x1="37.6" y1="402.49" x2="39.4" y2="402.49" stroke="#000" stroke-width="1.0"/><line x1="36.2" y1="398.49" x2="39.4" y2="398.49" stroke="#000" stroke-width="1.2"/><text x="32.8" y="400.49" text-anchor="end" font-size="6.6" fill="#2a2a2a" stroke="#2a2a2a" stroke-width="0.12">80</text><line x1="37.6" y1="394.50" x2="39.4" y2="394.50" stroke="#000" stroke-width="1.0"/><line x1="36.2" y1="390.50" x2="39.4" y2="390.50" stroke="#000" stroke-width="1.2"/><text x="32.8" y="392.50" text-anchor="end" font-size="6.6" fill="#2a2a2a" stroke="#2a2a2a" stroke-width="0.12">100</text><line x1="39.60" y1="430.45" x2="39.60" y2="433.55" stroke="#000" stroke-width="0.9"/><text x="39.60" y="443.05" text-anchor="middle" font-size="6.9" fill="#222" stroke="#222" stroke-width="0.1">799.0</text><line x1="81.29" y1="430.45" x2="81.29" y2="432.15" stroke="#000" stroke-width="0.9"/><line x1="122.98" y1="430.45" x2="122.98" y2="433.55" stroke="#000" stroke-width="0.9"/><text x="122.98" y="443.05" text-anchor="middle" font-size="6.9" fill="#222" stroke="#222" stroke-width="0.1">1319.2</text><line x1="164.67" y1="430.45" x2="164.67" y2="432.15" stroke="#000" stroke-width="0.9"/><line x1="206.36" y1="430.45" x2="206.36" y2="433.55" stroke="#000" stroke-width="0.9"/><text x="206.36" y="443.05" text-anchor="middle" font-size="6.9" fill="#222" stroke="#222" stroke-width="0.1">1839.4</text><line x1="248.05" y1="430.45" x2="248.05" y2="432.15" stroke="#000" stroke-width="0.9"/><line x1="289.74" y1="430.45" x2="289.74" y2="433.55" stroke="#000" stroke-width="0.9"/><text x="289.74" y="443.05" text-anchor="middle" font-size="6.9" fill="#222" stroke="#222" stroke-width="0.1">2359.6</text><line x1="331.43" y1="430.45" x2="331.43" y2="432.15" stroke="#000" stroke-width="0.9"/><line x1="373.12" y1="430.45" x2="373.12" y2="433.55" stroke="#000" stroke-width="0.9"/><text x="373.12" y="443.05" text-anchor="middle" font-size="6.9" fill="#222" stroke="#222" stroke-width="0.1">2879.8</text><line x1="414.81" y1="430.45" x2="414.81" y2="432.15" stroke="#000" stroke-width="0.9"/><line x1="456.50" y1="430.45" x2="456.50" y2="433.55" stroke="#000" stroke-width="0.9"/><text x="456.50" y="443.05" text-anchor="middle" font-size="6.9" fill="#222" stroke="#222" stroke-width="0.1">3400.0</text><text transform="translate(15.8,409.08) rotate(-90)" text-anchor="middle" font-size="8.4" fill="#222" stroke="#222" stroke-width="0.25" textLength="35.5" lengthAdjust="spacingAndGlyphs">% intensity</text><text x="455.8" y="395.60" font-size="8.6" fill="#1a1a1a" stroke="#1a1a1a" stroke-width="0.28">HK alone</text><line x1="43.37" y1="429.85" x2="43.37" y2="390.50" stroke="#2e5597" stroke-width="1.0"/><line x1="43.90" y1="429.85" x2="43.90" y2="406.08" stroke="#2e5597" stroke-width="1.0"/><line x1="44.25" y1="429.85" x2="44.25" y2="429.25" stroke="#2e5597" stroke-width="1.0"/><line x1="46.97" y1="429.85" x2="46.97" y2="429.65" stroke="#2e5597" stroke-width="1.0"/><line x1="54.19" y1="429.85" x2="54.19" y2="429.85" stroke="#2e5597" stroke-width="1.0"/><line x1="58.03" y1="429.85" x2="58.03" y2="429.85" stroke="#2e5597" stroke-width="1.0"/><line x1="70.22" y1="429.85" x2="70.22" y2="429.45" stroke="#2e5597" stroke-width="1.0"/><line x1="73.42" y1="429.85" x2="73.42" y2="429.65" stroke="#2e5597" stroke-width="1.0"/><line x1="81.91" y1="429.85" x2="81.91" y2="429.25" stroke="#2e5597" stroke-width="1.0"/><text transform="translate(48.37,389.50) rotate(-90)" font-size="6.2" fill="#000" stroke="#000" stroke-width="0.18" textLength="17.43" lengthAdjust="spacingAndGlyphs">825.04</text><text transform="translate(48.85,429.15) rotate(-90)" font-size="6.2" fill="#000" stroke="#000" stroke-width="0.18" textLength="17.43" lengthAdjust="spacingAndGlyphs">828.04</text><text transform="translate(62.63,429.15) rotate(-90)" font-size="6.2" fill="#000" stroke="#000" stroke-width="0.18" textLength="17.43" lengthAdjust="spacingAndGlyphs">913.95</text><text transform="translate(75.46,429.15) rotate(-90)" font-size="6.2" fill="#000" stroke="#000" stroke-width="0.18" textLength="17.43" lengthAdjust="spacingAndGlyphs">994.04</text><text transform="translate(86.51,429.15) rotate(-90)" font-size="6.2" fill="#000" stroke="#000" stroke-width="0.18" textLength="20.60" lengthAdjust="spacingAndGlyphs">1062.96</text><text transform="translate(96.44,429.15) rotate(-90)" font-size="6.2" fill="#000" stroke="#000" stroke-width="0.18" textLength="20.60" lengthAdjust="spacingAndGlyphs">1124.92</text><text transform="translate(103.97,429.15) rotate(-90)" font-size="6.2" fill="#000" stroke="#000" stroke-width="0.18" textLength="20.60" lengthAdjust="spacingAndGlyphs">1171.86</text><text transform="translate(112.48,429.15) rotate(-90)" font-size="6.2" fill="#000" stroke="#000" stroke-width="0.18" textLength="20.60" lengthAdjust="spacingAndGlyphs">1225.00</text><text transform="translate(122.74,429.15) rotate(-90)" font-size="6.2" fill="#000" stroke="#000" stroke-width="0.18" textLength="20.60" lengthAdjust="spacingAndGlyphs">1288.97</text><text transform="translate(130.26,429.15) rotate(-90)" font-size="6.2" fill="#000" stroke="#000" stroke-width="0.18" textLength="20.60" lengthAdjust="spacingAndGlyphs">1335.91</text><text transform="translate(137.41,429.15) rotate(-90)" font-size="6.2" fill="#000" stroke="#000" stroke-width="0.18" textLength="20.60" lengthAdjust="spacingAndGlyphs">1380.51</text><text transform="translate(147.22,429.15) rotate(-90)" font-size="6.2" fill="#000" stroke="#000" stroke-width="0.18" textLength="20.60" lengthAdjust="spacingAndGlyphs">1441.70</text><text transform="translate(156.71,429.15) rotate(-90)" font-size="6.2" fill="#000" stroke="#000" stroke-width="0.18" textLength="20.60" lengthAdjust="spacingAndGlyphs">1500.94</text><text transform="translate(167.57,429.15) rotate(-90)" font-size="6.2" fill="#000" stroke="#000" stroke-width="0.18" textLength="20.60" lengthAdjust="spacingAndGlyphs">1568.65</text><text transform="translate(186.76,429.15) rotate(-90)" font-size="6.2" fill="#000" stroke="#000" stroke-width="0.18" textLength="20.60" lengthAdjust="spacingAndGlyphs">1688.40</text><text transform="translate(227.69,429.15) rotate(-90)" font-size="6.2" fill="#000" stroke="#000" stroke-width="0.18" textLength="20.60" lengthAdjust="spacingAndGlyphs">1943.75</text><text transform="translate(240.67,429.15) rotate(-90)" font-size="6.2" fill="#000" stroke="#000" stroke-width="0.18" textLength="20.60" lengthAdjust="spacingAndGlyphs">2024.71</text><text transform="translate(409.03,429.15) rotate(-90)" font-size="6.2" fill="#000" stroke="#000" stroke-width="0.18" textLength="20.60" lengthAdjust="spacingAndGlyphs">3075.08</text><text x="7.5" y="472.0" font-size="12.4" font-weight="bold" stroke="#000" stroke-width="0.45">E</text><line x1="39.45" y1="495.8" x2="39.45" y2="538.3000000000001" stroke="#000" stroke-width="1.4"/><line x1="38.8" y1="535.25" x2="458.6" y2="535.25" stroke="#000" stroke-width="1.45"/><line x1="36.2" y1="535.20" x2="39.4" y2="535.20" stroke="#000" stroke-width="1.2"/><text x="32.8" y="537.20" text-anchor="end" font-size="6.6" fill="#2a2a2a" stroke="#2a2a2a" stroke-width="0.12">0</text><line x1="37.6" y1="531.56" x2="39.4" y2="531.56" stroke="#000" stroke-width="1.0"/><line x1="36.2" y1="527.92" x2="39.4" y2="527.92" stroke="#000" stroke-width="1.2"/><text x="32.8" y="529.92" text-anchor="end" font-size="6.6" fill="#2a2a2a" stroke="#2a2a2a" stroke-width="0.12">20</text><line x1="37.6" y1="524.28" x2="39.4" y2="524.28" stroke="#000" stroke-width="1.0"/><line x1="36.2" y1="520.64" x2="39.4" y2="520.64" stroke="#000" stroke-width="1.2"/><text x="32.8" y="522.64" text-anchor="end" font-size="6.6" fill="#2a2a2a" stroke="#2a2a2a" stroke-width="0.12">40</text><line x1="37.6" y1="517.00" x2="39.4" y2="517.00" stroke="#000" stroke-width="1.0"/><line x1="36.2" y1="513.36" x2="39.4" y2="513.36" stroke="#000" stroke-width="1.2"/><text x="32.8" y="515.36" text-anchor="end" font-size="6.6" fill="#2a2a2a" stroke="#2a2a2a" stroke-width="0.12">60</text><line x1="37.6" y1="509.72" x2="39.4" y2="509.72" stroke="#000" stroke-width="1.0"/><line x1="36.2" y1="506.08" x2="39.4" y2="506.08" stroke="#000" stroke-width="1.2"/><text x="32.8" y="508.08" text-anchor="end" font-size="6.6" fill="#2a2a2a" stroke="#2a2a2a" stroke-width="0.12">80</text><line x1="37.6" y1="502.44" x2="39.4" y2="502.44" stroke="#000" stroke-width="1.0"/><line x1="36.2" y1="498.80" x2="39.4" y2="498.80" stroke="#000" stroke-width="1.2"/><text x="32.8" y="500.80" text-anchor="end" font-size="6.6" fill="#2a2a2a" stroke="#2a2a2a" stroke-width="0.12">100</text><line x1="39.60" y1="535.2" x2="39.60" y2="538.3000000000001" stroke="#000" stroke-width="0.9"/><text x="39.60" y="547.80" text-anchor="middle" font-size="6.9" fill="#222" stroke="#222" stroke-width="0.1">799.0</text><line x1="81.29" y1="535.2" x2="81.29" y2="536.9000000000001" stroke="#000" stroke-width="0.9"/><line x1="122.98" y1="535.2" x2="122.98" y2="538.3000000000001" stroke="#000" stroke-width="0.9"/><text x="122.98" y="547.80" text-anchor="middle" font-size="6.9" fill="#222" stroke="#222" stroke-width="0.1">1319.2</text><line x1="164.67" y1="535.2" x2="164.67" y2="536.9000000000001" stroke="#000" stroke-width="0.9"/><line x1="206.36" y1="535.2" x2="206.36" y2="538.3000000000001" stroke="#000" stroke-width="0.9"/><text x="206.36" y="547.80" text-anchor="middle" font-size="6.9" fill="#222" stroke="#222" stroke-width="0.1">1839.4</text><line x1="248.05" y1="535.2" x2="248.05" y2="536.9000000000001" stroke="#000" stroke-width="0.9"/><line x1="289.74" y1="535.2" x2="289.74" y2="538.3000000000001" stroke="#000" stroke-width="0.9"/><text x="289.74" y="547.80" text-anchor="middle" font-size="6.9" fill="#222" stroke="#222" stroke-width="0.1">2359.6</text><line x1="331.43" y1="535.2" x2="331.43" y2="536.9000000000001" stroke="#000" stroke-width="0.9"/><line x1="373.12" y1="535.2" x2="373.12" y2="538.3000000000001" stroke="#000" stroke-width="0.9"/><text x="373.12" y="547.80" text-anchor="middle" font-size="6.9" fill="#222" stroke="#222" stroke-width="0.1">2879.8</text><line x1="414.81" y1="535.2" x2="414.81" y2="536.9000000000001" stroke="#000" stroke-width="0.9"/><line x1="456.50" y1="535.2" x2="456.50" y2="538.3000000000001" stroke="#000" stroke-width="0.9"/><text x="456.50" y="547.80" text-anchor="middle" font-size="6.9" fill="#222" stroke="#222" stroke-width="0.1">3400.0</text><text transform="translate(15.8,515.60) rotate(-90)" text-anchor="middle" font-size="8.4" fill="#222" stroke="#222" stroke-width="0.25" textLength="35.5" lengthAdjust="spacingAndGlyphs">% intensity</text><text x="455.8" y="499.90" font-size="8.6" fill="#1a1a1a" stroke="#1a1a1a" stroke-width="0.28">HK + kallikrein</text><line x1="43.77" y1="534.60" x2="43.77" y2="533.74" stroke="#2e5597" stroke-width="1.0"/><line x1="56.49" y1="534.60" x2="56.49" y2="534.47" stroke="#2e5597" stroke-width="1.0"/><line x1="65.15" y1="534.60" x2="65.15" y2="534.47" stroke="#2e5597" stroke-width="1.0"/><line x1="70.22" y1="534.60" x2="70.22" y2="534.47" stroke="#2e5597" stroke-width="1.0"/><line x1="72.37" y1="534.60" x2="72.37" y2="534.29" stroke="#2e5597" stroke-width="1.0"/><line x1="78.71" y1="534.60" x2="78.71" y2="530.83" stroke="#2e5597" stroke-width="1.0"/><line x1="80.63" y1="534.60" x2="80.63" y2="498.80" stroke="#2e5597" stroke-width="1.0"/><line x1="81.52" y1="534.60" x2="81.52" y2="507.90" stroke="#2e5597" stroke-width="1.0"/><line x1="83.52" y1="534.60" x2="83.52" y2="526.10" stroke="#2e5597" stroke-width="1.0"/><line x1="84.48" y1="534.60" x2="84.48" y2="530.83" stroke="#2e5597" stroke-width="1.0"/><line x1="87.05" y1="534.60" x2="87.05" y2="534.47" stroke="#2e5597" stroke-width="1.0"/><line x1="91.12" y1="534.60" x2="91.12" y2="534.65" stroke="#2e5597" stroke-width="1.0"/><line x1="128.96" y1="534.60" x2="128.96" y2="524.28" stroke="#2e5597" stroke-width="1.0"/><line x1="129.60" y1="534.60" x2="129.60" y2="527.19" stroke="#2e5597" stroke-width="1.0"/><line x1="130.16" y1="534.60" x2="130.16" y2="532.29" stroke="#2e5597" stroke-width="1.0"/><line x1="132.73" y1="534.60" x2="132.73" y2="533.74" stroke="#2e5597" stroke-width="1.0"/><line x1="136.34" y1="534.60" x2="136.34" y2="534.29" stroke="#2e5597" stroke-width="1.0"/><text transform="translate(48.37,533.90) rotate(-90)" font-size="6.2" fill="#000" stroke="#000" stroke-width="0.18" textLength="17.43" lengthAdjust="spacingAndGlyphs">825.03</text><text transform="translate(61.09,533.90) rotate(-90)" font-size="6.2" fill="#000" stroke="#000" stroke-width="0.18" textLength="17.43" lengthAdjust="spacingAndGlyphs">904.38</text><text transform="translate(69.75,533.90) rotate(-90)" font-size="6.2" fill="#000" stroke="#000" stroke-width="0.18" textLength="17.43" lengthAdjust="spacingAndGlyphs">958.38</text><text transform="translate(76.97,533.90) rotate(-90)" font-size="6.2" fill="#000" stroke="#000" stroke-width="0.18" textLength="20.60" lengthAdjust="spacingAndGlyphs">1003.46</text><text transform="translate(86.11,497.80) rotate(-90)" font-size="6.2" fill="#000" stroke="#000" stroke-width="0.18" textLength="20.60" lengthAdjust="spacingAndGlyphs">1060.45</text><text transform="translate(88.67,525.10) rotate(-90)" font-size="6.2" fill="#000" stroke="#000" stroke-width="0.18" textLength="20.60" lengthAdjust="spacingAndGlyphs">1076.44</text><text transform="translate(95.72,533.90) rotate(-90)" font-size="6.2" fill="#000" stroke="#000" stroke-width="0.18" textLength="20.60" lengthAdjust="spacingAndGlyphs">1120.39</text><text transform="translate(107.26,533.90) rotate(-90)" font-size="6.2" fill="#000" stroke="#000" stroke-width="0.18" textLength="20.60" lengthAdjust="spacingAndGlyphs">1192.41</text><text transform="translate(116.08,533.90) rotate(-90)" font-size="6.2" fill="#000" stroke="#000" stroke-width="0.18" textLength="20.60" lengthAdjust="spacingAndGlyphs">1247.43</text><text transform="translate(126.04,533.90) rotate(-90)" font-size="6.2" fill="#000" stroke="#000" stroke-width="0.18" textLength="20.60" lengthAdjust="spacingAndGlyphs">1309.55</text><text transform="translate(133.90,523.28) rotate(-90)" font-size="6.2" fill="#000" stroke="#000" stroke-width="0.18" textLength="20.60" lengthAdjust="spacingAndGlyphs">1358.58</text><text transform="translate(140.94,533.90) rotate(-90)" font-size="6.2" fill="#000" stroke="#000" stroke-width="0.18" textLength="20.60" lengthAdjust="spacingAndGlyphs">1402.53</text><text transform="translate(148.48,533.90) rotate(-90)" font-size="6.2" fill="#000" stroke="#000" stroke-width="0.18" textLength="20.60" lengthAdjust="spacingAndGlyphs">1449.54</text><text transform="translate(158.91,533.90) rotate(-90)" font-size="6.2" fill="#000" stroke="#000" stroke-width="0.18" textLength="20.60" lengthAdjust="spacingAndGlyphs">1514.65</text><text transform="translate(165.96,533.90) rotate(-90)" font-size="6.2" fill="#000" stroke="#000" stroke-width="0.18" textLength="20.60" lengthAdjust="spacingAndGlyphs">1558.61</text><text transform="translate(178.94,533.90) rotate(-90)" font-size="6.2" fill="#000" stroke="#000" stroke-width="0.18" textLength="20.60" lengthAdjust="spacingAndGlyphs">1639.60</text><text transform="translate(295.19,533.90) rotate(-90)" font-size="6.2" fill="#000" stroke="#000" stroke-width="0.18" textLength="20.60" lengthAdjust="spacingAndGlyphs">2364.82</text><text transform="translate(307.86,533.90) rotate(-90)" font-size="6.2" fill="#000" stroke="#000" stroke-width="0.18" textLength="20.60" lengthAdjust="spacingAndGlyphs">2443.87</text><text transform="translate(388.99,533.90) rotate(-90)" font-size="6.2" fill="#000" stroke="#000" stroke-width="0.18" textLength="20.60" lengthAdjust="spacingAndGlyphs">2950.01</text><text x="92.80" y="486.50" font-size="9.4" fill="#b0163f" stroke="#b0163f" stroke-width="0.25" textLength="11.2" lengthAdjust="spacingAndGlyphs">BK</text><line x1="93.5" y1="491.90" x2="107.10" y2="491.90" stroke="#c0335a" stroke-width="1.4"/><path d="M90.50,491.90 L94.40,489.90 L94.40,493.90 Z" fill="#a0002a"/><text x="7.5" y="576.2" font-size="12.4" font-weight="bold" stroke="#000" stroke-width="0.45">F</text><line x1="39.45" y1="600.2" x2="39.45" y2="642.65" stroke="#000" stroke-width="1.4"/><line x1="38.8" y1="639.5999999999999" x2="458.6" y2="639.5999999999999" stroke="#000" stroke-width="1.45"/><line x1="36.2" y1="639.55" x2="39.4" y2="639.55" stroke="#000" stroke-width="1.2"/><text x="32.8" y="641.55" text-anchor="end" font-size="6.6" fill="#2a2a2a" stroke="#2a2a2a" stroke-width="0.12">0</text><line x1="37.6" y1="635.92" x2="39.4" y2="635.92" stroke="#000" stroke-width="1.0"/><line x1="36.2" y1="632.30" x2="39.4" y2="632.30" stroke="#000" stroke-width="1.2"/><text x="32.8" y="634.30" text-anchor="end" font-size="6.6" fill="#2a2a2a" stroke="#2a2a2a" stroke-width="0.12">20</text><line x1="37.6" y1="628.67" x2="39.4" y2="628.67" stroke="#000" stroke-width="1.0"/><line x1="36.2" y1="625.05" x2="39.4" y2="625.05" stroke="#000" stroke-width="1.2"/><text x="32.8" y="627.05" text-anchor="end" font-size="6.6" fill="#2a2a2a" stroke="#2a2a2a" stroke-width="0.12">40</text><line x1="37.6" y1="621.42" x2="39.4" y2="621.42" stroke="#000" stroke-width="1.0"/><line x1="36.2" y1="617.80" x2="39.4" y2="617.80" stroke="#000" stroke-width="1.2"/><text x="32.8" y="619.80" text-anchor="end" font-size="6.6" fill="#2a2a2a" stroke="#2a2a2a" stroke-width="0.12">60</text><line x1="37.6" y1="614.17" x2="39.4" y2="614.17" stroke="#000" stroke-width="1.0"/><line x1="36.2" y1="610.55" x2="39.4" y2="610.55" stroke="#000" stroke-width="1.2"/><text x="32.8" y="612.55" text-anchor="end" font-size="6.6" fill="#2a2a2a" stroke="#2a2a2a" stroke-width="0.12">80</text><line x1="37.6" y1="606.92" x2="39.4" y2="606.92" stroke="#000" stroke-width="1.0"/><line x1="36.2" y1="603.30" x2="39.4" y2="603.30" stroke="#000" stroke-width="1.2"/><text x="32.8" y="605.30" text-anchor="end" font-size="6.6" fill="#2a2a2a" stroke="#2a2a2a" stroke-width="0.12">100</text><line x1="39.60" y1="639.55" x2="39.60" y2="642.65" stroke="#000" stroke-width="0.9"/><text x="39.60" y="652.15" text-anchor="middle" font-size="6.9" fill="#222" stroke="#222" stroke-width="0.1">799.0</text><line x1="81.29" y1="639.55" x2="81.29" y2="641.25" stroke="#000" stroke-width="0.9"/><line x1="122.98" y1="639.55" x2="122.98" y2="642.65" stroke="#000" stroke-width="0.9"/><text x="122.98" y="652.15" text-anchor="middle" font-size="6.9" fill="#222" stroke="#222" stroke-width="0.1">1319.2</text><line x1="164.67" y1="639.55" x2="164.67" y2="641.25" stroke="#000" stroke-width="0.9"/><line x1="206.36" y1="639.55" x2="206.36" y2="642.65" stroke="#000" stroke-width="0.9"/><text x="206.36" y="652.15" text-anchor="middle" font-size="6.9" fill="#222" stroke="#222" stroke-width="0.1">1839.4</text><line x1="248.05" y1="639.55" x2="248.05" y2="641.25" stroke="#000" stroke-width="0.9"/><line x1="289.74" y1="639.55" x2="289.74" y2="642.65" stroke="#000" stroke-width="0.9"/><text x="289.74" y="652.15" text-anchor="middle" font-size="6.9" fill="#222" stroke="#222" stroke-width="0.1">2359.6</text><line x1="331.43" y1="639.55" x2="331.43" y2="641.25" stroke="#000" stroke-width="0.9"/><line x1="373.12" y1="639.55" x2="373.12" y2="642.65" stroke="#000" stroke-width="0.9"/><text x="373.12" y="652.15" text-anchor="middle" font-size="6.9" fill="#222" stroke="#222" stroke-width="0.1">2879.8</text><line x1="414.81" y1="639.55" x2="414.81" y2="641.25" stroke="#000" stroke-width="0.9"/><line x1="456.50" y1="639.55" x2="456.50" y2="642.65" stroke="#000" stroke-width="0.9"/><text x="456.50" y="652.15" text-anchor="middle" font-size="6.9" fill="#222" stroke="#222" stroke-width="0.1">3400.0</text><text transform="translate(15.8,620.02) rotate(-90)" text-anchor="middle" font-size="8.4" fill="#222" stroke="#222" stroke-width="0.25" textLength="35.5" lengthAdjust="spacingAndGlyphs">% intensity</text><text x="455.8" y="602.60" font-size="8.6" fill="#1a1a1a" stroke="#1a1a1a" stroke-width="0.28">HK + plasmin</text><line x1="43.77" y1="638.95" x2="43.77" y2="635.20" stroke="#2e5597" stroke-width="1.0"/><line x1="43.93" y1="638.95" x2="43.93" y2="637.74" stroke="#2e5597" stroke-width="1.0"/><line x1="68.61" y1="638.95" x2="68.61" y2="638.64" stroke="#2e5597" stroke-width="1.0"/><line x1="72.37" y1="638.95" x2="72.37" y2="638.28" stroke="#2e5597" stroke-width="1.0"/><line x1="78.71" y1="638.95" x2="78.71" y2="638.46" stroke="#2e5597" stroke-width="1.0"/><line x1="80.91" y1="638.95" x2="80.91" y2="603.30" stroke="#2e5597" stroke-width="1.0"/><line x1="81.60" y1="638.95" x2="81.60" y2="614.17" stroke="#2e5597" stroke-width="1.0"/><line x1="82.21" y1="638.95" x2="82.21" y2="630.85" stroke="#2e5597" stroke-width="1.0"/><line x1="83.60" y1="638.95" x2="83.60" y2="635.92" stroke="#2e5597" stroke-width="1.0"/><line x1="129.29" y1="638.95" x2="129.29" y2="637.01" stroke="#2e5597" stroke-width="1.0"/><line x1="140.97" y1="638.95" x2="140.97" y2="638.82" stroke="#2e5597" stroke-width="1.0"/><line x1="147.15" y1="638.95" x2="147.15" y2="638.82" stroke="#2e5597" stroke-width="1.0"/><line x1="154.31" y1="638.95" x2="154.31" y2="638.64" stroke="#2e5597" stroke-width="1.0"/><text transform="translate(48.37,634.20) rotate(-90)" font-size="6.2" fill="#000" stroke="#000" stroke-width="0.18" textLength="17.43" lengthAdjust="spacingAndGlyphs">825.02</text><text transform="translate(61.09,638.25) rotate(-90)" font-size="6.2" fill="#000" stroke="#000" stroke-width="0.18" textLength="17.43" lengthAdjust="spacingAndGlyphs">904.37</text><text transform="translate(69.74,638.25) rotate(-90)" font-size="6.2" fill="#000" stroke="#000" stroke-width="0.18" textLength="17.43" lengthAdjust="spacingAndGlyphs">958.34</text><text transform="translate(76.97,638.25) rotate(-90)" font-size="6.2" fill="#000" stroke="#000" stroke-width="0.18" textLength="20.60" lengthAdjust="spacingAndGlyphs">1003.45</text><text transform="translate(86.11,602.30) rotate(-90)" font-size="6.2" fill="#000" stroke="#000" stroke-width="0.18" textLength="20.60" lengthAdjust="spacingAndGlyphs">1060.44</text><text transform="translate(86.74,629.85) rotate(-90)" font-size="6.2" fill="#000" stroke="#000" stroke-width="0.18" textLength="20.60" lengthAdjust="spacingAndGlyphs">1064.37</text><text transform="translate(93.78,638.25) rotate(-90)" font-size="6.2" fill="#000" stroke="#000" stroke-width="0.18" textLength="20.60" lengthAdjust="spacingAndGlyphs">1108.32</text><text transform="translate(105.33,638.25) rotate(-90)" font-size="6.2" fill="#000" stroke="#000" stroke-width="0.18" textLength="20.60" lengthAdjust="spacingAndGlyphs">1180.40</text><text transform="translate(118.01,638.25) rotate(-90)" font-size="6.2" fill="#000" stroke="#000" stroke-width="0.18" textLength="20.60" lengthAdjust="spacingAndGlyphs">1259.49</text><text transform="translate(126.36,638.25) rotate(-90)" font-size="6.2" fill="#000" stroke="#000" stroke-width="0.18" textLength="20.60" lengthAdjust="spacingAndGlyphs">1311.54</text><text transform="translate(133.89,636.01) rotate(-90)" font-size="6.2" fill="#000" stroke="#000" stroke-width="0.18" textLength="20.60" lengthAdjust="spacingAndGlyphs">1358.57</text><text transform="translate(145.57,638.25) rotate(-90)" font-size="6.2" fill="#000" stroke="#000" stroke-width="0.18" textLength="20.60" lengthAdjust="spacingAndGlyphs">1431.39</text><text transform="translate(158.91,638.25) rotate(-90)" font-size="6.2" fill="#000" stroke="#000" stroke-width="0.18" textLength="20.60" lengthAdjust="spacingAndGlyphs">1514.65</text><text transform="translate(165.95,638.25) rotate(-90)" font-size="6.2" fill="#000" stroke="#000" stroke-width="0.18" textLength="20.60" lengthAdjust="spacingAndGlyphs">1558.59</text><text transform="translate(177.67,638.25) rotate(-90)" font-size="6.2" fill="#000" stroke="#000" stroke-width="0.18" textLength="20.60" lengthAdjust="spacingAndGlyphs">1631.68</text><text transform="translate(194.02,638.25) rotate(-90)" font-size="6.2" fill="#000" stroke="#000" stroke-width="0.18" textLength="20.60" lengthAdjust="spacingAndGlyphs">1733.65</text><text transform="translate(202.35,638.25) rotate(-90)" font-size="6.2" fill="#000" stroke="#000" stroke-width="0.18" textLength="20.60" lengthAdjust="spacingAndGlyphs">1785.67</text><text transform="translate(210.53,638.25) rotate(-90)" font-size="6.2" fill="#000" stroke="#000" stroke-width="0.18" textLength="20.60" lengthAdjust="spacingAndGlyphs">1836.71</text><text transform="translate(218.05,638.25) rotate(-90)" font-size="6.2" fill="#000" stroke="#000" stroke-width="0.18" textLength="20.60" lengthAdjust="spacingAndGlyphs">1883.62</text><text transform="translate(227.53,638.25) rotate(-90)" font-size="6.2" fill="#000" stroke="#000" stroke-width="0.18" textLength="20.60" lengthAdjust="spacingAndGlyphs">1942.73</text><text transform="translate(240.18,638.25) rotate(-90)" font-size="6.2" fill="#000" stroke="#000" stroke-width="0.18" textLength="20.60" lengthAdjust="spacingAndGlyphs">2021.65</text><text transform="translate(252.77,638.25) rotate(-90)" font-size="6.2" fill="#000" stroke="#000" stroke-width="0.18" textLength="20.60" lengthAdjust="spacingAndGlyphs">2100.18</text><text transform="translate(262.31,638.25) rotate(-90)" font-size="6.2" fill="#000" stroke="#000" stroke-width="0.18" textLength="20.60" lengthAdjust="spacingAndGlyphs">2159.69</text><text transform="translate(274.82,638.25) rotate(-90)" font-size="6.2" fill="#000" stroke="#000" stroke-width="0.18" textLength="20.60" lengthAdjust="spacingAndGlyphs">2237.76</text><text transform="translate(284.44,638.25) rotate(-90)" font-size="6.2" fill="#000" stroke="#000" stroke-width="0.18" textLength="20.60" lengthAdjust="spacingAndGlyphs">2297.77</text><text transform="translate(312.68,638.25) rotate(-90)" font-size="6.2" fill="#000" stroke="#000" stroke-width="0.18" textLength="20.60" lengthAdjust="spacingAndGlyphs">2473.95</text><text transform="translate(326.94,638.25) rotate(-90)" font-size="6.2" fill="#000" stroke="#000" stroke-width="0.18" textLength="20.60" lengthAdjust="spacingAndGlyphs">2562.90</text><text transform="translate(344.26,638.25) rotate(-90)" font-size="6.2" fill="#000" stroke="#000" stroke-width="0.18" textLength="20.60" lengthAdjust="spacingAndGlyphs">2670.96</text><text transform="translate(355.18,638.25) rotate(-90)" font-size="6.2" fill="#000" stroke="#000" stroke-width="0.18" textLength="20.60" lengthAdjust="spacingAndGlyphs">2739.09</text><text transform="translate(439.02,638.25) rotate(-90)" font-size="6.2" fill="#000" stroke="#000" stroke-width="0.18" textLength="20.60" lengthAdjust="spacingAndGlyphs">3262.17</text><text x="92.20" y="592.40" font-size="9.4" fill="#b0163f" stroke="#b0163f" stroke-width="0.25" textLength="11.2" lengthAdjust="spacingAndGlyphs">BK</text><line x1="93.5" y1="597.80" x2="106.50" y2="597.80" stroke="#c0335a" stroke-width="1.4"/><path d="M89.90,597.80 L93.80,595.80 L93.80,599.80 Z" fill="#a0002a"/><text x="249.4" y="664.8" text-anchor="middle" font-size="8.8" fill="#222" stroke="#222" stroke-width="0.28" textLength="36.6" lengthAdjust="spacingAndGlyphs">Mass (m/z)</text><rect x="0.5" y="0.5" width="519" height="674" fill="none" stroke="#000" stroke-width="1"/></svg>
</body></html>
